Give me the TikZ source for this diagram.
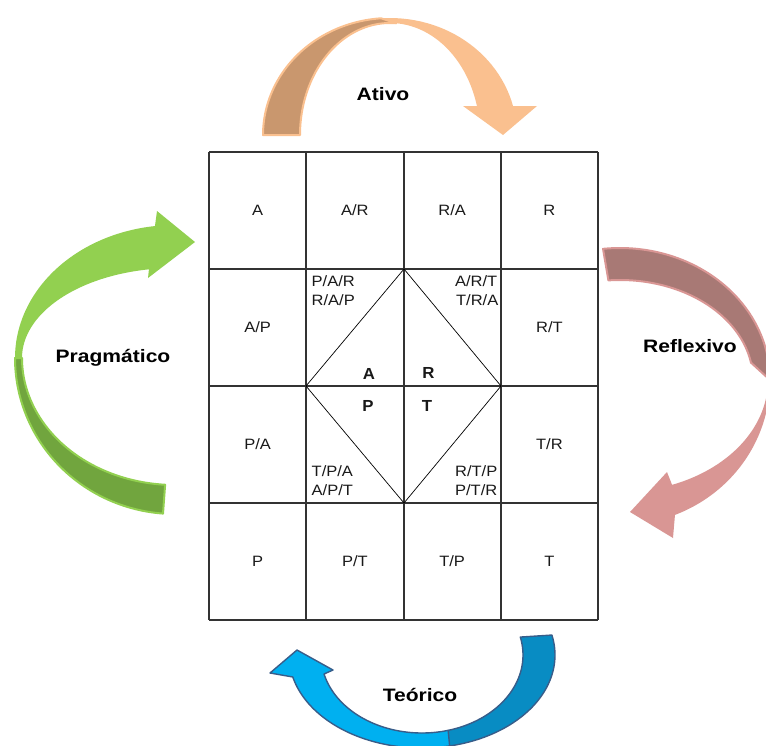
\documentclass[tikz,border=0pt]{standalone}
\usepackage{fontspec}
\setmainfont{Liberation Sans}
\definecolor{orangeL}{RGB}{250,192,143}
\definecolor{orangeD}{RGB}{201,151,110}
\definecolor{greenL}{RGB}{146,208,80}
\definecolor{greenD}{RGB}{113,165,62}
\definecolor{redL}{RGB}{217,150,148}
\definecolor{redD}{RGB}{168,121,117}
\definecolor{blueL}{RGB}{0,176,240}
\definecolor{blueD}{RGB}{8,140,195}
\definecolor{blueO}{RGB}{56,93,138}
\begin{document}
\begin{tikzpicture}[x=1pt,y=-1pt,
  cell/.style={font=\fontsize{15}{18}\selectfont, xscale=1.1, inner sep=0pt, text=black!90},
  core/.style={font=\fontsize{16}{19}\selectfont\bfseries, xscale=1.05, inner sep=0pt, text=black!90},
  cyclelabel/.style={font=\fontsize{18}{22}\selectfont\bfseries, xscale=1.17, inner sep=0pt},
  gridline/.style={line width=1.7pt, black!80},
  diag/.style={line width=0.7pt, black},
  band/.style={samples=60, variable=\t},
  backside/.style={line width=2pt, line join=round}]
\useasboundingbox (0,0) rectangle (766,745);
\clip (0,0) rectangle (766,745);

% ---------- Ativo: orange arrow over the top ----------
\fill[orangeL] plot[band, domain=180:345.65] ({390+127*cos(\t)},{135+117*sin(\t)})
  -- (537,106) -- (503,135) -- (463,106)
  -- plot[band, domain=345:180] ({390+90*cos(\t)},{135+112*sin(\t)}) -- cycle;
\filldraw[fill=orangeD, draw=orangeL, backside]
  plot[band, domain=180:266] ({390+127*cos(\t)},{135+117*sin(\t)})
  -- plot[band, domain=274:180] ({390+90*cos(\t)},{135+112*sin(\t)}) -- cycle;

% ---------- Reflexivo: red arrow on the right ----------
\fill[redL] plot[band, domain=0:68.5] ({620+150*cos(\t)},{380+145*sin(\t)})
  -- (673,538) -- (630,512) -- (667,472)
  -- plot[band, domain=69.4:0] ({620+148*cos(\t)},{380+112*sin(\t)}) -- cycle;
\filldraw[fill=redD, draw=redL, backside]
  plot[band, domain=263.5:360] ({620+150*cos(\t)},{380+132*sin(\t)})
  -- plot[band, domain=350:265] ({620+133*cos(\t)},{380+100*sin(\t)}) -- cycle;

% ---------- Teórico: blue arrow underneath ----------
\filldraw[fill=blueD, draw=blueO, line width=1.4pt, line join=round]
  plot[band, domain=-12.4:85] ({422+133*cos(\t)},{655+93*sin(\t)})
  -- plot[band, domain=75:-13.3] ({422+101*cos(\t)},{655+78*sin(\t)}) -- cycle;
\filldraw[fill=blueL, draw=blueO, line width=1.4pt, line join=round]
  (292.8,677) -- (270,673) -- (297,650) -- (333,670)
  -- plot[band, domain=165.9:75] ({422+101*cos(\t)},{655+78*sin(\t)})
  -- plot[band, domain=78:166.3] ({422+133*cos(\t)},{655+93*sin(\t)}) -- cycle;

% ---------- Pragmático: green arrow on the left ----------
\fill[greenL] plot[band, domain=180:262.8] ({175+160*cos(\t)},{358+133*sin(\t)})
  -- (157,211) -- (195,242) -- (148,278)
  -- plot[band, domain=260.2:180] ({175+153*cos(\t)},{358+90*sin(\t)}) -- cycle;
\filldraw[fill=greenD, draw=greenL, backside]
  plot[band, domain=180:94.3] ({175+160*cos(\t)},{358+156*sin(\t)})
  -- plot[band, domain=93.7:180] ({175+153*cos(\t)},{358+127*sin(\t)}) -- cycle;

% ---------- cycle labels ----------
\node[cyclelabel] (ativo) at (383,94) {Ativo};
\node[cyclelabel] (pragmatico) at (113,358) {Pragmático};
\node[cyclelabel] (reflexivo) at (690,346) {Reflexivo};
\node[cyclelabel] (teorico) at (420,695) {Teórico};

% ---------- 4x4 grid ----------
\foreach \gx in {209,306,404,501,598}
  \draw[gridline] (\gx,152) -- (\gx,620);
\foreach \gy in {152,269,386,503,620}
  \draw[gridline] (209,\gy) -- (598,\gy);

% diamond through the midpoints of the inner block
\coordinate (dtop) at (404,269);
\coordinate (dright) at (501,386);
\coordinate (dbottom) at (404,503);
\coordinate (dleft) at (306,386);
\draw[diag] (dtop) -- (dright) -- (dbottom) -- (dleft) -- cycle;

% ---------- cell labels ----------
\node[cell] (c11) at (257.6,210.5) {A};
\node[cell] (c12) at (354.9,210.5) {A/R};
\node[cell] (c13) at (452.1,210.5) {R/A};
\node[cell] (c14) at (549.4,210.5) {R};
\node[cell] (c21) at (257.6,327.5) {A/P};
\node[cell] (c24) at (549.4,327.5) {R/T};
\node[cell] (c31) at (257.6,444.5) {P/A};
\node[cell] (c34) at (549.4,444.5) {T/R};
\node[cell] (c41) at (257.6,561.5) {P};
\node[cell] (c42) at (354.9,561.5) {P/T};
\node[cell] (c43) at (452.1,561.5) {T/P};
\node[cell] (c44) at (549.4,561.5) {T};

% combinations inside the diamond block
\node[cell, anchor=base west] (par) at (311.5,286) {P/A/R};
\node[cell, anchor=base west] (rap) at (311.5,305) {R/A/P};
\node[cell, anchor=base east] (art) at (497.5,286) {A/R/T};
\node[cell, anchor=base east] (tra) at (498.5,305) {T/R/A};
\node[cell, anchor=base west] (tpa) at (311.5,476.5) {T/P/A};
\node[cell, anchor=base west] (apt) at (311.5,495.5) {A/P/T};
\node[cell, anchor=base east] (rtp) at (497.5,476) {R/T/P};
\node[cell, anchor=base east] (ptr) at (497.5,495.5) {P/T/R};

% the four poles at the centre
\node[core] (pa) at (369,374) {A};
\node[core] (pr) at (428.5,373) {R};
\node[core] (pp) at (368,405.5) {P};
\node[core] (pt) at (427,405.5) {T};
\end{tikzpicture}
\end{document}
